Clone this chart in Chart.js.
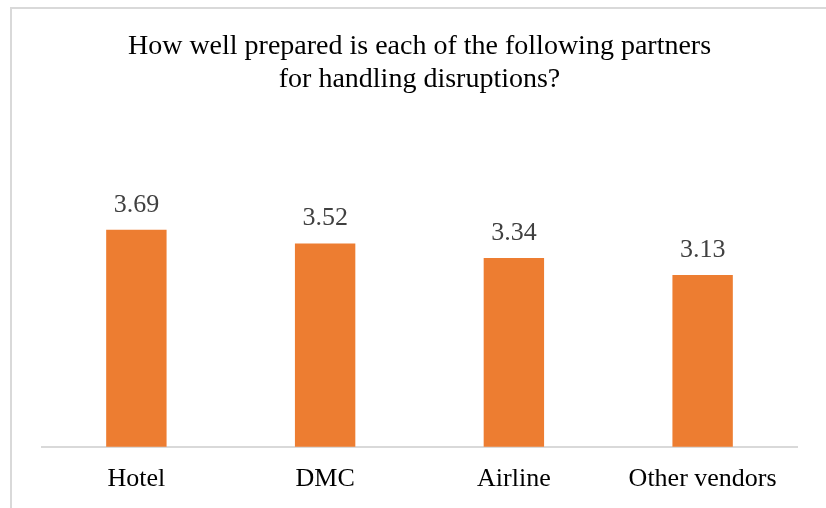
<!DOCTYPE html>
<html lang="en">
<head>
    <meta charset="UTF-8">
    <title>Partner preparedness</title>
    <script src="https://cdn.jsdelivr.net/npm/chart.js"></script>
    <style>
        body {
            margin: 0;
            background: #ffffff;
        }

        .frame {
            position: absolute;
            left: 10px;
            top: 7px;
            width: 900px;
            height: 600px;
            border-left: 2px solid #d9d9d9;
            border-top: 2px solid #d9d9d9;
        }

        .wrap {
            position: absolute;
            left: 0;
            top: 0;
            width: 826px;
            height: 508px;
            overflow: hidden;
        }
    </style>
</head>
<body>
    <div class="wrap">
        <div class="frame"></div>
        <canvas id="chart" width="826" height="508" style="position:absolute;left:0;top:0;"></canvas>
    </div>

    <script>
        const partners = ['Hotel', 'DMC', 'Airline', 'Other vendors'];
        const scores = [3.69, 3.52, 3.34, 3.13];
        const titleLines = ['How well prepared is each of the following partners', 'for handling disruptions?'];

        const serif = "'Liberation Serif', 'DejaVu Serif', serif";

        // draws the value above every bar
        const valueLabels = {
            id: 'valueLabels',
            afterDatasetsDraw(chart) {
                const ctx = chart.ctx;
                const meta = chart.getDatasetMeta(0);
                ctx.save();
                ctx.font = `26px ${serif}`;
                ctx.fillStyle = '#404040';
                ctx.textAlign = 'center';
                ctx.textBaseline = 'alphabetic';
                meta.data.forEach((bar, i) => {
                    ctx.fillText(scores[i].toFixed(2), bar.x, bar.y - 18);
                });
                ctx.restore();
            }
        };

        new Chart(document.getElementById('chart'), {
            type: 'bar',
            data: {
                labels: partners,
                datasets: [{
                    data: scores,
                    backgroundColor: '#ED7D31',
                    categoryPercentage: 1,
                    barPercentage: 0.32
                }]
            },
            options: {
                responsive: false,
                animation: false,
                layout: {
                    padding: { left: 42, right: 29, top: 0, bottom: 4 }
                },
                plugins: {
                    legend: { display: false },
                    tooltip: { enabled: false },
                    title: {
                        display: true,
                        text: titleLines,
                        color: '#000000',
                        font: { family: serif, size: 28, weight: 'normal', lineHeight: 1.18 },
                        padding: { top: 30, bottom: 28 }
                    }
                },
                scales: {
                    x: {
                        grid: { display: false },
                        border: { display: true, color: '#d9d9d9', width: 2 },
                        ticks: {
                            color: '#000000',
                            padding: 9,
                            font: { family: serif, size: 26 }
                        }
                    },
                    y: {
                        display: false,
                        min: 1,
                        max: 5
                    }
                }
            },
            plugins: [valueLabels]
        });
    </script>
</body>
</html>
